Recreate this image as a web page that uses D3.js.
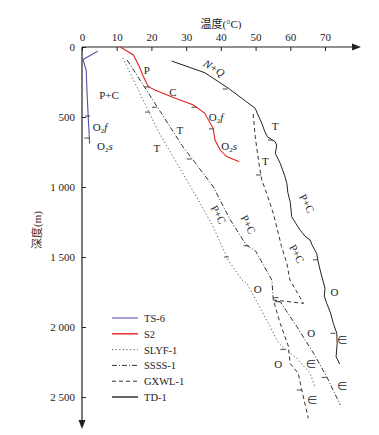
<!DOCTYPE html>
<html>
<head>
<meta charset="utf-8">
<script src="https://cdn.jsdelivr.net/npm/d3@7"></script>
<style>
  body { margin: 0; background: #fff; }
  svg text { font-family: "Liberation Serif", "Noto Sans CJK SC", serif; fill: #222; }
</style>
</head>
<body>
<div id="chart"></div>
<script>
// temperature (°C) / depth (m) pairs
var ts6 = [[4.5, 30], [0.3, 90], [1.2, 165], [1.5, 350], [1.9, 550], [2.2, 690]];
var s2 = [[11, 0], [14.8, 57], [16.5, 140], [17.7, 212], [19.1, 283], [21, 307], [26.3, 360],
  [32.1, 414], [35.4, 474], [35.9, 498], [37.8, 581], [38.3, 664], [39.8, 736], [41.7, 783], [45.3, 819]];
var slyf1 = [[11.8, 79], [21.9, 600], [26.8, 807], [34.0, 1114], [37.8, 1286], [42.1, 1521], [46.1, 1664],
  [47.5, 1688], [53.2, 1950], [56.6, 2116], [59.5, 2176], [61.9, 2224], [65.7, 2331], [67.1, 2426]];
var ssss1 = [[13.0, 93], [29.1, 714], [32.0, 807], [37.8, 998], [42.6, 1230], [47.3, 1414], [50.0, 1457],
  [54.2, 1643], [54.7, 1664], [55.1, 1807], [57.1, 1819], [61.9, 1998], [66.7, 2188], [70.5, 2355], [74.4, 2557]];
var gxwl1 = [[49.3, 479], [49.9, 641], [51.1, 855], [51.8, 950], [53.2, 1045], [55.1, 1188], [57.5, 1426],
  [59.0, 1545], [59.9, 1664], [63.8, 1831], [55.1, 1807], [57.1, 1974], [59.5, 2141], [59.9, 2259],
  [62.3, 2331], [63.3, 2450], [65.2, 2652]];
var td1 = [[25.8, 100], [35.4, 184], [42.2, 295], [49.9, 438], [50.5, 474], [51.8, 545], [52.6, 600],
  [53.4, 641], [55.6, 676], [56.1, 700], [55.7, 760], [57.1, 831], [57.8, 880], [58.4, 920], [59.0, 974],
  [59.3, 1040], [60.0, 1110], [60.4, 1212], [61.6, 1260], [62.8, 1307], [64.2, 1350], [65.7, 1379],
  [66.4, 1420], [67.6, 1474], [68.0, 1530], [68.6, 1593], [69.2, 1650], [70.0, 1724], [69.8, 1780],
  [70.5, 1831], [71.6, 1900], [72.4, 1974], [73.4, 2045], [73.5, 2120], [73.2, 2212], [74.2, 2264]];

var wells = ["TS-6", "S2", "SLYF-1", "SSSS-1", "GXWL-1", "TD-1"];
var wellData = [ts6, s2, slyf1, ssss1, gxwl1, td1];

// formation boundary ticks [T, D]
var boundTicks = [
  [2.3, 493], [2.1, 650],
  [19.5, 285], [33, 430], [38, 585],
  [42, 300], [55, 665], [68, 1520], [73, 2045],
  [19.6, 465], [42.3, 1500], [58.6, 2160],
  [21.6, 430], [31.6, 800], [48.0, 1420], [57.0, 1820], [70.5, 2360],
  [51.6, 914], [56.6, 1790], [63.3, 2450]
];

var xTicks = [0, 10, 20, 30, 40, 50, 60, 70];
var yTicks = [0, 500, 1000, 1500, 2000, 2500];
var yTickLabels = ["0", "500", "1 000", "1 500", "2 000", "2 500"];

// formation labels: text, T, D, rotation
var labels = [
  ["P+C", 7.8, 370, 0], ["O_2f", 5.2, 600, 0], ["O_2s", 6.6, 735, 0],
  ["P", 18.7, 190, 0], ["C", 26.2, 350, 0], ["O_2f", 38.6, 530, 0], ["O_2s", 42.4, 735, 0],
  ["N+Q", 37.5, 175, 32], ["T", 55.6, 593, 0], ["P+C", 63.8, 1130, 62], ["O", 72.7, 1780, 0], ["∈", 75.0, 2120, 0],
  ["T", 28.2, 620, 0], ["T", 21.6, 750, 0], ["P+C", 38.3, 1210, 62], ["P+C", 46.9, 1280, 62],
  ["T", 52.8, 840, 0], ["P+C", 60.9, 1490, 62],
  ["O", 50.6, 1760, 0], ["O", 66.0, 2070, 0], ["O", 56.5, 2290, 0],
  ["∈", 66.0, 2290, 0], ["∈", 75.0, 2450, 0], ["∈", 66.3, 2550, 0]
];

var colors = ["#5050a8", "#e52222", "#555", "#333", "#333", "#222"];
var dashes = [null, null, "1.2,2.4", "5,2,1,2", "4,3", null];

var width = 379, height = 435;
var svg = d3.select("#chart").append("svg")
  .attr("width", width).attr("height", height);

var x = d3.scaleLinear().domain([0, 70]).range([82, 325]);
var y = d3.scaleLinear().domain([0, 2500]).range([47, 397]);

// axes
svg.append("line").attr("x1", x(0)).attr("x2", 352).attr("y1", y(0)).attr("y2", y(0))
  .attr("stroke", "#222").attr("stroke-width", 1.2);
svg.append("path").attr("d", "M352,43.5L361,47L352,50.5Z").attr("fill", "#222");
svg.append("line").attr("x1", x(0)).attr("x2", x(0)).attr("y1", y(0)).attr("y2", 420)
  .attr("stroke", "#222").attr("stroke-width", 1.2);
svg.append("path").attr("d", "M78.5,420L82,429L85.5,420Z").attr("fill", "#222");

var xAxis = svg.append("g").attr("transform", "translate(0," + y(0) + ")")
  .call(d3.axisTop(x).tickValues(xTicks).tickSize(-4).tickPadding(6));
var yAxis = svg.append("g").attr("transform", "translate(" + x(0) + ",0)")
  .call(d3.axisLeft(y).tickValues(yTicks).tickSize(-4).tickPadding(7)
    .tickFormat(function(d, i) { return yTickLabels[i]; }));
[xAxis, yAxis].forEach(function(g) {
  g.select(".domain").remove();
  g.selectAll(".tick line").attr("stroke", "#222");
  g.selectAll(".tick text").attr("font-size", 11)
    .style("font-family", '"Liberation Serif", serif').attr("fill", "#222");
});

svg.append("text").attr("x", 221).attr("y", 28).attr("text-anchor", "middle")
  .attr("font-size", 11).text("温度(°C)");
svg.append("text").attr("transform", "translate(41,230) rotate(-90)")
  .attr("text-anchor", "middle").attr("font-size", 11).style("fill", "#4a2a28").text("深度(m)");

// well curves
var lineGen = d3.line().x(function(d) { return x(d[0]); }).y(function(d) { return y(d[1]); });
wellData.forEach(function(pts, i) {
  svg.append("path")
    .attr("d", lineGen(pts))
    .attr("fill", "none")
    .attr("stroke", colors[i])
    .attr("stroke-width", i < 2 ? 1.1 : 1)
    .attr("stroke-dasharray", dashes[i]);
});

// boundary ticks
svg.selectAll("line.bt").data(boundTicks).enter().append("line")
  .attr("class", "bt")
  .attr("x1", function(d) { return x(d[0]) - 5; })
  .attr("x2", function(d) { return x(d[0]); })
  .attr("y1", function(d) { return y(d[1]); })
  .attr("y2", function(d) { return y(d[1]); })
  .attr("stroke", "#333").attr("stroke-width", 0.9);

// formation labels
labels.forEach(function(l) {
  var t = svg.append("text")
    .attr("font-size", 11)
    .attr("text-anchor", "middle")
    .attr("transform", "translate(" + x(l[1]) + "," + y(l[2]) + ") rotate(" + l[3] + ")");
  if (l[0].indexOf("_") > 0) {
    var p = l[0].split("_");
    t.append("tspan").text(p[0]);
    t.append("tspan").attr("font-size", 7).attr("dy", 2).text(p[1].charAt(0));
    t.append("tspan").attr("dy", -2).attr("font-style", "italic").text(p[1].slice(1));
  } else if (l[0] === "N+Q") {
    t.attr("font-style", "italic").text(l[0]);
  } else {
    t.text(l[0]);
  }
});

// legend
var legend = svg.append("g").attr("transform", "translate(112,318)");
wells.forEach(function(w, i) {
  var row = legend.append("g").attr("transform", "translate(0," + (i * 15.8) + ")");
  row.append("line").attr("x1", 0).attr("x2", 26).attr("y1", 0).attr("y2", 0)
    .attr("stroke", i === 0 ? "#7a7ac4" : colors[i])
    .attr("stroke-width", i < 2 || i === 5 ? 1.4 : 1)
    .attr("stroke-dasharray", dashes[i]);
  row.append("text").attr("x", 32).attr("y", 4).attr("font-size", 10.5).text(w);
});
</script>
</body>
</html>
